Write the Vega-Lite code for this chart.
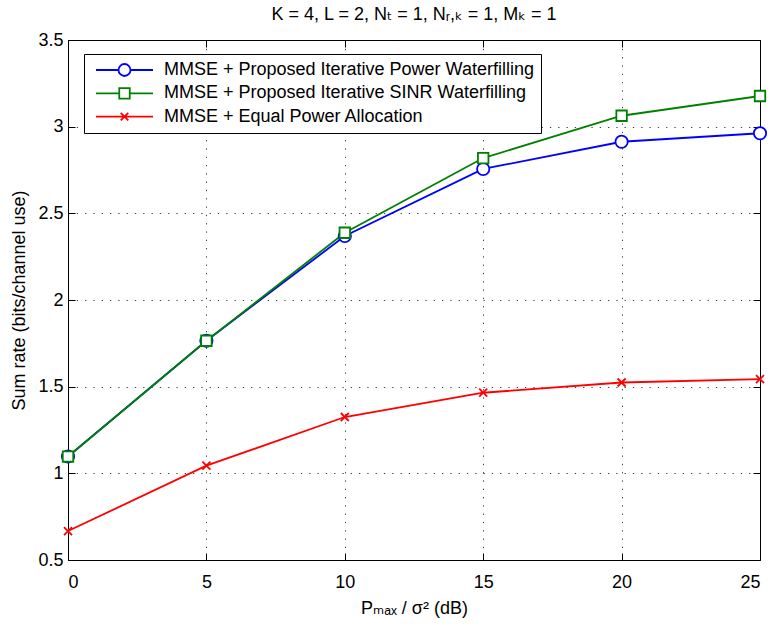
{
  "$schema": "https://vega.github.io/schema/vega-lite/v6.json",
  "width": 692,
  "height": 520,
  "autosize": {"type": "none"},
  "padding": {"left": 68, "top": 40, "right": 11, "bottom": 68},
  "background": "white",
  "config": {
    "font": "Liberation Sans, DejaVu Sans, sans-serif",
    "view": {"stroke": "black", "strokeWidth": 1},
    "axis": {
      "labelFont": "Liberation Sans, DejaVu Sans, sans-serif",
      "titleFont": "Liberation Sans, DejaVu Sans, sans-serif",
      "labelFontSize": 18,
      "titleFontSize": 18,
      "titleFontWeight": "normal",
      "labelColor": "black",
      "titleColor": "black",
      "domainColor": "black",
      "domainWidth": 1,
      "tickColor": "black",
      "tickWidth": 1,
      "gridColor": "#000000",
      "gridOpacity": 0.75,
      "gridWidth": 1,
      "gridDash": [1.3, 7]
    }
  },
  "title": {
    "text": "K = 4, L = 2, Nₜ = 1, Nᵣ,ₖ = 1, Mₖ = 1",
    "font": "Liberation Sans, DejaVu Sans, sans-serif",
    "fontSize": 18,
    "fontWeight": "normal",
    "color": "black",
    "anchor": "middle",
    "baseline": "alphabetic",
    "offset": 8,
    "dy": 15
  },
  "data": {
    "values": [
      {"x": 0, "series": "MMSE + Proposed Iterative Power Waterfilling", "rate": 1.097},
      {"x": 5, "series": "MMSE + Proposed Iterative Power Waterfilling", "rate": 1.765},
      {"x": 10, "series": "MMSE + Proposed Iterative Power Waterfilling", "rate": 2.369},
      {"x": 15, "series": "MMSE + Proposed Iterative Power Waterfilling", "rate": 2.756},
      {"x": 20, "series": "MMSE + Proposed Iterative Power Waterfilling", "rate": 2.913},
      {"x": 25, "series": "MMSE + Proposed Iterative Power Waterfilling", "rate": 2.962},
      {"x": 0, "series": "MMSE + Proposed Iterative SINR Waterfilling", "rate": 1.097},
      {"x": 5, "series": "MMSE + Proposed Iterative SINR Waterfilling", "rate": 1.765},
      {"x": 10, "series": "MMSE + Proposed Iterative SINR Waterfilling", "rate": 2.388},
      {"x": 15, "series": "MMSE + Proposed Iterative SINR Waterfilling", "rate": 2.819},
      {"x": 20, "series": "MMSE + Proposed Iterative SINR Waterfilling", "rate": 3.063},
      {"x": 25, "series": "MMSE + Proposed Iterative SINR Waterfilling", "rate": 3.177},
      {"x": 0, "series": "MMSE + Equal Power Allocation", "rate": 0.667},
      {"x": 5, "series": "MMSE + Equal Power Allocation", "rate": 1.044},
      {"x": 10, "series": "MMSE + Equal Power Allocation", "rate": 1.325},
      {"x": 15, "series": "MMSE + Equal Power Allocation", "rate": 1.465},
      {"x": 20, "series": "MMSE + Equal Power Allocation", "rate": 1.524},
      {"x": 25, "series": "MMSE + Equal Power Allocation", "rate": 1.544}
    ]
  },
  "layer": [
    {
      "mark": {"type": "line", "strokeWidth": 1.8, "opacity": 1},
      "encoding": {
        "x": {
          "field": "x", "type": "quantitative",
          "scale": {"domain": [0, 25], "nice": false, "zero": false},
          "axis": {
            "orient": "bottom",
            "values": [0, 5, 10, 15, 20, 25],
            "grid": true,
            "tickSize": -7,
            "labelPadding": 20,
            "title": "Pₘₐₓ / σ² (dB)",
            "titleBaseline": "alphabetic",
            "titleX": 346,
            "titleY": 53
          }
        },
        "y": {
          "field": "rate", "type": "quantitative",
          "scale": {"domain": [0.5, 3.5], "nice": false, "zero": false},
          "axis": {
            "orient": "left",
            "values": [0.5, 1, 1.5, 2, 2.5, 3, 3.5],
            "format": "~g",
            "grid": true,
            "tickSize": -7,
            "labelPadding": 12,
            "title": "Sum rate (bits/channel use)",
            "titleBaseline": "alphabetic",
            "titleAngle": -90,
            "titleX": -44,
            "titleY": 260
          }
        },
        "color": {
          "field": "series", "type": "nominal",
          "scale": {
            "domain": ["MMSE + Proposed Iterative Power Waterfilling", "MMSE + Proposed Iterative SINR Waterfilling", "MMSE + Equal Power Allocation"],
            "range": ["#0000ff", "#008000", "#ff0000"]
          },
          "legend": {
            "title": null,
            "orient": "none",
            "legendX": 16,
            "legendY": 14,
            "fillColor": "white",
            "strokeColor": "black",
            "padding": 7,
            "labelFont": "Liberation Sans, DejaVu Sans, sans-serif",
            "labelFontSize": 18,
            "labelColor": "black",
            "labelLimit": 1000,
            "labelOffset": 10,
            "symbolSize": 3249,
            "symbolOffset": 4,
            "symbolStrokeWidth": 1.8,
            "symbolFillColor": "white",
            "symbolOpacity": 1,
            "clipHeight": 18,
            "rowPadding": 5.3
          }
        }
      }
    },
    {
      "transform": [{"filter": "datum.x < -100"}],
      "mark": {"type": "point", "filled": false, "strokeWidth": 1.8, "opacity": 1, "strokeOpacity": 1},
      "encoding": {
        "x": {
          "field": "x", "type": "quantitative",
          "axis": {"orient": "top", "values": [0, 5, 10, 15, 20, 25], "labels": false, "grid": false, "domain": false, "tickSize": -7, "title": null}
        },
        "y": {
          "field": "rate", "type": "quantitative",
          "axis": {"orient": "right", "values": [0.5, 1, 1.5, 2, 2.5, 3, 3.5], "labels": false, "grid": false, "domain": false, "tickSize": -7, "title": null}
        },
        "color": {"field": "series", "type": "nominal"},
        "shape": {
          "field": "series", "type": "nominal",
          "scale": {
            "domain": ["MMSE + Proposed Iterative Power Waterfilling", "MMSE + Proposed Iterative SINR Waterfilling", "MMSE + Equal Power Allocation"],
            "range": [
              "M-1,0H-0.21M0.21,0H1M0.21,0A0.21,0.21,0,1,1,-0.21,0A0.21,0.21,0,1,1,0.21,0Z",
              "M-1,0H-0.184M0.184,0H1M-0.184,-0.184H0.184V0.184H-0.184Z",
              "M-1,0H1M-0.133,-0.133L0.133,0.133M-0.133,0.133L0.133,-0.133"
            ]
          },
          "legend": {
            "title": null,
            "orient": "none",
            "legendX": 16,
            "legendY": 14,
            "fillColor": "white",
            "strokeColor": "black",
            "padding": 7,
            "labelFont": "Liberation Sans, DejaVu Sans, sans-serif",
            "labelFontSize": 18,
            "labelColor": "black",
            "labelLimit": 1000,
            "labelOffset": 10,
            "symbolSize": 3249,
            "symbolOffset": 4,
            "symbolStrokeWidth": 1.8,
            "symbolFillColor": "white",
            "symbolOpacity": 1,
            "clipHeight": 18,
            "rowPadding": 5.3
          }
        }
      }
    },
    {
      "transform": [{"filter": "datum.series === 'MMSE + Proposed Iterative Power Waterfilling'"}],
      "mark": {"type": "point", "shape": "circle", "size": 151, "filled": false, "fill": "white", "fillOpacity": 1, "strokeWidth": 1.8, "opacity": 1},
      "encoding": {
        "x": {"field": "x", "type": "quantitative", "axis": null},
        "y": {"field": "rate", "type": "quantitative", "axis": null},
        "color": {"field": "series", "type": "nominal", "legend": null}
      }
    },
    {
      "transform": [{"filter": "datum.series === 'MMSE + Proposed Iterative SINR Waterfilling'"}],
      "mark": {"type": "point", "shape": "square", "size": 110, "filled": false, "fill": "white", "fillOpacity": 1, "strokeWidth": 1.8, "opacity": 1},
      "encoding": {
        "x": {"field": "x", "type": "quantitative", "axis": null},
        "y": {"field": "rate", "type": "quantitative", "axis": null},
        "color": {"field": "series", "type": "nominal", "legend": null}
      }
    },
    {
      "transform": [{"filter": "datum.series === 'MMSE + Equal Power Allocation'"}],
      "mark": {"type": "point", "shape": "M-1,-1L1,1M-1,1L1,-1", "size": 64, "filled": false, "strokeWidth": 1.8, "opacity": 1},
      "encoding": {
        "x": {"field": "x", "type": "quantitative", "axis": null},
        "y": {"field": "rate", "type": "quantitative", "axis": null},
        "color": {"field": "series", "type": "nominal", "legend": null}
      }
    }
  ],
  "resolve": {"axis": {"x": "independent", "y": "independent"}}
}
